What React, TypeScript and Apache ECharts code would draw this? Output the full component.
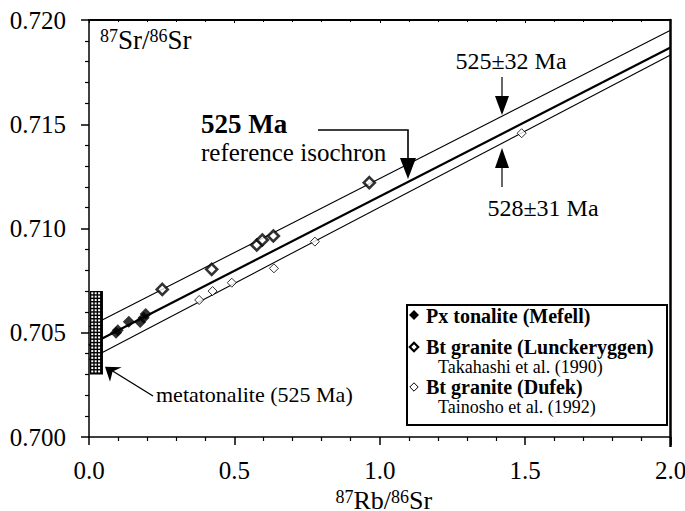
import React, { useEffect, useRef } from 'react';
import * as echarts from 'echarts';

const FONT = '"Liberation Serif", "Times New Roman", serif';

// Tick labels
const xTickLabels = ['0.0', '0.5', '1.0', '1.5', '2.0'];
const yTickLabels = ['0.700', '0.705', '0.710', '0.715', '0.720'];

// Data: [87Rb/86Sr, 87Sr/86Sr]
const pxTonalite = [
  [0.093, 0.7050], [0.099, 0.70512], [0.137, 0.70553], [0.176, 0.70551], [0.188, 0.70572], [0.195, 0.70590],
];
const btLunckeryggen = [
  [0.252, 0.70708], [0.422, 0.70804], [0.577, 0.70921], [0.596, 0.70945], [0.634, 0.70964], [0.964, 0.71220],
];
const btDufek = [
  [0.379, 0.70657], [0.425, 0.70700], [0.491, 0.70740], [0.636, 0.70809], [0.777, 0.70937], [1.488, 0.71457],
];

// Isochron lines
const referenceIsochron = [[0, 0.70440], [2, 0.71868]];
const upperIsochron = [[0, 0.70529], [2, 0.71951]];
const lowerIsochron = [[0, 0.70372], [2, 0.71832]];

// Metatonalite initial ratio range box [x0, y0, x1, y1]
const metatonaliteBox = [[0.003, 0.703, 0.048, 0.707]];

const supStyle = { fontSize: 18, fontFamily: FONT, color: '#000', verticalAlign: 'top' as const, lineHeight: 26 };
const mainStyle = { fontSize: 26, fontFamily: FONT, color: '#000', verticalAlign: 'middle' as const, lineHeight: 26 };

function diamond(cx: number, cy: number, r: number) {
  return [[cx, cy - r], [cx + r, cy], [cx, cy + r], [cx - r, cy]];
}

export default function App() {
  const ref = useRef<HTMLDivElement>(null);
  useEffect(() => {
    if (!ref.current) return;
    const chart = echarts.init(ref.current, null, { renderer: 'svg' });
    const axisLabel = { fontFamily: FONT, fontSize: 25, color: '#000' };
    const lineSeries = (name: string, data: number[][], width: number) => ({
      name, type: 'line', data, symbol: 'none', z: 2,
      lineStyle: { color: '#000', width }, silent: true,
    });
    const option: any = {
      animation: false,
      backgroundColor: '#fff',
      textStyle: { fontFamily: FONT },
      grid: { left: 89, top: 20, width: 581.5, height: 417, containLabel: false, outerBoundsMode: 'none' },
      xAxis: [
        {
          type: 'value', min: 0, max: 2, interval: 0.5, position: 'bottom',
          axisLine: { onZero: false, lineStyle: { color: '#000', width: 1.5 } },
          axisTick: { show: true, length: 8, lineStyle: { color: '#000', width: 1.5 } },
          minorTick: { show: true, splitNumber: 5, length: 4, lineStyle: { color: '#000', width: 1.2 } },
          splitLine: { show: false },
          axisLabel: { ...axisLabel, margin: 21, formatter: (v: number) => xTickLabels[Math.round(v / 0.5)] },
          name: '{s|87}{m|Rb/}{s|86}{m|Sr}',
          nameLocation: 'middle', nameGap: 42,
          nameTextStyle: { fontFamily: FONT, padding: [0, 0, 0, 8], rich: { s: supStyle, m: mainStyle } },
        },
        {
          type: 'value', min: 0, max: 2, interval: 0.5, position: 'top',
          axisLine: { onZero: false, lineStyle: { color: '#000', width: 2 } },
          axisTick: { show: true, inside: true, length: 3, lineStyle: { color: '#000', width: 1 } },
          minorTick: { show: true, splitNumber: 5, length: 2, lineStyle: { color: '#000', width: 1 } },
          splitLine: { show: false }, axisLabel: { show: false },
        },
      ],
      yAxis: [
        {
          type: 'value', min: 0.7, max: 0.72, interval: 0.005, position: 'left',
          axisLine: { onZero: false, lineStyle: { color: '#000', width: 1.5 } },
          axisTick: { show: true, length: 8, lineStyle: { color: '#000', width: 1.5 } },
          minorTick: { show: true, splitNumber: 5, length: 4, lineStyle: { color: '#000', width: 1.2 } },
          splitLine: { show: false },
          axisLabel: { ...axisLabel, margin: 23, formatter: (v: number) => yTickLabels[Math.round((v - 0.7) / 0.005)] },
          name: '{s|87}{m|Sr/}{s|86}{m|Sr}',
          nameLocation: 'end', nameGap: -20,
          nameTextStyle: { fontFamily: FONT, align: 'left', verticalAlign: 'middle', padding: [0, 0, 0, 11], rich: { s: { ...supStyle, lineHeight: 27 }, m: { ...mainStyle, fontSize: 27, lineHeight: 27 } } },
        },
        {
          type: 'value', min: 0.7, max: 0.72, position: 'right',
          axisLine: { onZero: false, lineStyle: { color: '#000', width: 2.5 } },
          axisTick: { show: false }, axisLabel: { show: false }, splitLine: { show: false },
        },
      ],
      series: [
        lineSeries('525±32 Ma', upperIsochron, 1.1),
        lineSeries('525 Ma reference isochron', referenceIsochron, 2.2),
        lineSeries('528±31 Ma', lowerIsochron, 1.1),
        {
          name: 'Px tonalite (Mefell)', type: 'scatter', data: pxTonalite, z: 4,
          symbol: 'diamond', symbolSize: 12, itemStyle: { color: '#000' },
        },
        {
          name: 'Bt granite (Lunckeryggen)', type: 'scatter', data: btLunckeryggen, z: 4,
          symbol: 'diamond', symbolSize: 11, itemStyle: { color: '#fff', borderColor: '#000', borderWidth: 2.6 },
        },
        {
          name: 'Bt granite (Dufek)', type: 'scatter', data: btDufek, z: 4,
          symbol: 'diamond', symbolSize: 9, itemStyle: { color: '#fff', borderColor: '#000', borderWidth: 1 },
        },
        {
          name: 'metatonalite', type: 'custom', data: metatonaliteBox, z: 5,
          encode: { x: [0, 2], y: [1, 3] },
          renderItem: (_p: any, api: any) => {
            const a = api.coord([api.value(0), api.value(3)]);
            const b = api.coord([api.value(2), api.value(1)]);
            const children: any[] = [
              { type: 'rect', shape: { x: a[0], y: a[1], width: b[0] - a[0], height: b[1] - a[1] }, style: { fill: '#000' } },
            ];
            const pitch = 3.4;
            for (let yy = a[1] + 1.2; yy + 2 <= b[1]; yy += pitch) {
              for (let xx = a[0] + 1.4; xx + 2 <= b[0]; xx += pitch) {
                children.push({ type: 'rect', shape: { x: xx, y: yy, width: 2, height: 2 }, style: { fill: '#fff' } });
              }
            }
            return { type: 'group', children };
          },
        },
      ],
      graphic: [
        // right axis extension
        { type: 'line', shape: { x1: 670.5, y1: 437, x2: 670.5, y2: 447 }, style: { stroke: '#000', lineWidth: 2.5 } },
        // 525 Ma reference isochron
        { type: 'text', x: 201, y: 124, style: { text: '525 Ma', font: `bold 27px ${FONT}`, fill: '#000', textAlign: 'left', textVerticalAlign: 'middle' } },
        { type: 'text', x: 201, y: 152, style: { text: 'reference isochron', font: `25px ${FONT}`, fill: '#000', textAlign: 'left', textVerticalAlign: 'middle' } },
        { type: 'polyline', shape: { points: [[318, 130], [408, 130], [408, 160]] }, style: { stroke: '#000', lineWidth: 1.6, fill: null } },
        { type: 'polygon', shape: { points: [[400, 158], [416, 158], [408, 179]] }, style: { fill: '#000' } },
        // 525±32 Ma
        { type: 'text', x: 511, y: 61, style: { text: '525±32 Ma', font: `24px ${FONT}`, fill: '#000', textAlign: 'center', textVerticalAlign: 'middle' } },
        { type: 'line', shape: { x1: 502, y1: 77, x2: 502, y2: 97 }, style: { stroke: '#000', lineWidth: 1.2 } },
        { type: 'polygon', shape: { points: [[495, 96], [509, 96], [502, 115]] }, style: { fill: '#000' } },
        // 528±31 Ma
        { type: 'text', x: 543, y: 208, style: { text: '528±31 Ma', font: `24px ${FONT}`, fill: '#000', textAlign: 'center', textVerticalAlign: 'middle' } },
        { type: 'line', shape: { x1: 502, y1: 187, x2: 502, y2: 167 }, style: { stroke: '#000', lineWidth: 1.2 } },
        { type: 'polygon', shape: { points: [[495, 168], [509, 168], [502, 148]] }, style: { fill: '#000' } },
        // metatonalite
        { type: 'text', x: 156, y: 394, style: { text: 'metatonalite (525 Ma)', font: `22px ${FONT}`, fill: '#000', textAlign: 'left', textVerticalAlign: 'middle' } },
        { type: 'line', shape: { x1: 153, y1: 396, x2: 111, y2: 370 }, style: { stroke: '#000', lineWidth: 1.4 } },
        { type: 'polygon', shape: { points: [[105, 366.7], [121.7, 367.3], [112.6, 371.4], [110, 381.7]] }, style: { fill: '#000' } },
        // legend box
        {
          type: 'group', z: 20,
          children: [
            { type: 'rect', shape: { x: 407, y: 305, width: 260, height: 120 }, style: { fill: '#fff', stroke: '#000', lineWidth: 2 } },
            { type: 'polygon', shape: { points: diamond(414, 315, 5) }, style: { fill: '#000' } },
            { type: 'text', x: 426, y: 316, style: { text: 'Px tonalite (Mefell)', font: `bold 20px ${FONT}`, fill: '#000', textVerticalAlign: 'middle' } },
            { type: 'polygon', shape: { points: diamond(414, 347, 4.2) }, style: { fill: '#fff', stroke: '#000', lineWidth: 2.2 } },
            { type: 'text', x: 426, y: 347, style: { text: 'Bt granite (Lunckeryggen)', font: `bold 20px ${FONT}`, fill: '#000', textVerticalAlign: 'middle' } },
            { type: 'text', x: 438, y: 367, style: { text: 'Takahashi et al. (1990)', font: `18px ${FONT}`, fill: '#000', textVerticalAlign: 'middle' } },
            { type: 'polygon', shape: { points: diamond(414, 387, 4.2) }, style: { fill: '#fff', stroke: '#000', lineWidth: 1 } },
            { type: 'text', x: 426, y: 387, style: { text: 'Bt granite (Dufek)', font: `bold 20px ${FONT}`, fill: '#000', textVerticalAlign: 'middle' } },
            { type: 'text', x: 438, y: 407, style: { text: 'Tainosho et al. (1992)', font: `18px ${FONT}`, fill: '#000', textVerticalAlign: 'middle' } },
          ],
        },
      ],
    };
    chart.setOption(option);
    return () => chart.dispose();
  }, []);
  return <div ref={ref} style={{ position: 'fixed', left: 0, top: 0, width: 685, height: 511, background: '#fff' }} />;
}
